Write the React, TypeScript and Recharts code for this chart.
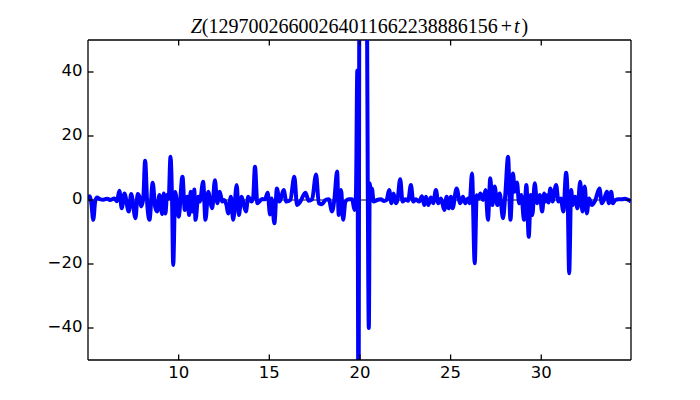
import { LineChart, Line, XAxis, YAxis, ReferenceLine } from 'recharts';

// t offsets and Z values
const tValues = [
  5.0, 5.1, 5.18, 5.29, 5.4, 5.5, 5.65, 5.85, 6.05, 6.25, 6.45, 6.6, 6.73, 6.86, 7.01, 7.25, 7.38, 7.62, 7.74,
  7.85, 7.93, 8.05, 8.15, 8.27, 8.39, 8.57, 8.7, 8.81, 8.94, 9.09, 9.18, 9.27, 9.36, 9.45, 9.55, 9.64, 9.7,
  9.81, 10.0, 10.21, 10.34, 10.47, 10.58, 10.66, 10.76, 10.86, 10.93, 11.08, 11.17, 11.35, 11.48, 11.63,
  11.76, 11.85, 12.0, 12.13, 12.27, 12.4, 12.5, 12.64, 12.73, 12.88, 13.01, 13.2, 13.32, 13.47, 13.6, 13.71,
  13.84, 14.02, 14.11, 14.21, 14.34, 14.48, 14.61, 14.76, 14.91, 15.04, 15.13, 15.28, 15.42, 15.57, 15.79,
  15.94, 16.16, 16.38, 16.53, 16.71, 16.99, 17.17, 17.36, 17.58, 17.73, 17.91, 18.09, 18.28, 18.46, 18.59,
  18.74, 18.83, 18.96, 19.07, 19.2, 19.38, 19.57, 19.7, 19.78, 19.855, 19.92, 19.975, 20.35, 20.49, 20.54,
  20.6, 20.66, 20.75, 20.95, 21.15, 21.33, 21.47, 21.61, 21.74, 21.85, 21.98, 22.07, 22.22, 22.35, 22.5,
  22.66, 22.81, 22.94, 23.08, 23.27, 23.42, 23.55, 23.64, 23.77, 23.91, 24.04, 24.19, 24.32, 24.47, 24.65,
  24.78, 24.89, 25.02, 25.11, 25.33, 25.53, 25.68, 25.81, 25.96, 26.05, 26.18, 26.33, 26.44, 26.55, 26.64,
  26.79, 26.93, 27.06, 27.19, 27.3, 27.43, 27.58, 27.71, 27.89, 28.02, 28.17, 28.3, 28.44, 28.54, 28.66,
  28.78, 28.9, 29.05, 29.18, 29.31, 29.42, 29.51, 29.64, 29.77, 29.92, 30.05, 30.16, 30.25, 30.3, 30.4,
  30.5, 30.64, 30.71, 30.82, 30.95, 31.08, 31.22, 31.37, 31.46, 31.54, 31.65, 31.74, 31.87, 32.0, 32.15,
  32.27, 32.4, 32.51, 32.64, 32.79, 32.97, 33.21, 33.34, 33.47, 33.62, 33.73, 33.86, 33.95, 34.08, 34.26,
  34.45, 34.63, 34.82, 34.95,
];

const zValues = [
  0.3, 1.2, -0.8, -6.2, -0.3, 0.8, 0.3, 0.1, 0.4, 0.0, 0.5, -0.4, 2.9, -2.6, 2.0, -3.6, 1.9, -5.7, 1.9,
  0.8, -2.0, 0.5, 12.3, -1.5, -6.2, 5.4, -2.0, -3.6, 1.6, -4.4, 2.0, -4.2, 1.6, 0.5, 13.5, -1.0, -20.3,
  2.5, -5.2, 7.3, -3.1, 1.0, -4.7, 2.6, -3.6, 3.3, -6.2, 1.0, -0.5, 5.7, -6.2, 2.6,
  -1.0, -2.6, 6.2, -1.0, 2.6, -0.5, 0.0, -1.6, -4.2, 1.0, -6.2, 4.7, -4.7, 1.0, -1.6, -3.6,
  1.0, -0.5, 0.8, 10.4, -1.0, -0.3, 0.3, 0.2, 2.3, -4.5, 0.5, -7.3, 3.6, -0.5, 3.1,
  -0.5, 0.0, 7.3, -1.6, -0.5, 2.3, -0.2, 0.2, 8.0, -1.0, -1.3, 0.0, 0.2, -3.6, 0.2,
  8.9, -4.7, 3.1, -6.2, -0.5, 0.2, 0.2, -3.1, 2.0, 40.5, -75, 80, 80, -40, 5.2,
  2.5, 3.6, -0.5, 0.0, 0.2, -0.3, 0.0, 3.1, -1.0, 2.0, -1.0, 0.0, 6.5, -0.5, 0.2,
  -0.2, 4.7, -0.5, 0.2, -0.5, 1.2, -1.6, 1.0, -1.6, 0.8, -1.0, 3.1, -1.0, 0.5, -3.1,
  1.0, -2.6, 1.0, -2.6, 3.6, -1.0, 1.0, -1.0, 0.5, -1.0, 8.3, -19.8, 1.5, 0.5, 2.0,
  0.0, 3.1, -6.2, 6.8, -1.6, 4.2, -1.6, 2.0, -5.7, 2.0, 13.5, -6.2, 8.3, 2.6, 5.5,
  -1.0, 1.6, -6.2, 4.7, -11.5, 1.6, -4.7, 5.2, -1.0, 1.6, -3.6, 2.0, -0.5, 1.5, -0.8,
  3.6, -0.5, 2.0, 4.7, -0.5, 0.5, -3.6, 8.5, 0.0, -22.9, 3.1, -1.6, 1.0, -2.6, 5.7,
  -3.6, 4.2, -4.2, 0.5, -1.6, -0.2, 3.6, -1.0, 0.2, 2.6, -1.0, 2.6, -1.0, 0.0, 0.2,
  0.2, 0.4, 0.0, -0.5,
];

const xTicks = [10, 15, 20, 25, 30];
const yTicks = [-40, -20, 0, 20, 40];
const titleNumber = '12970026600264011662238886156';

const data = tValues.map((t, i) => ({ t, z: zValues[i] }));

const TICK_LEN = 5.5;
const TICK_FONT = '"DejaVu Sans", sans-serif';
const fmt = (v: number) => String(v).replace('-', '\u2212');

// plot box edges (svg coords): left 88, right 631, top 40, bottom 360
function BottomTick(props: any) {
  const { x, payload } = props;
  return (
    <g>
      <path d={`M${x},360 V${360 - TICK_LEN}`} stroke="#000" strokeWidth={1.3} fill="none" />
      <text x={x} y={378.3} textAnchor="middle" fontSize={16.5} fontFamily={TICK_FONT} fill="#000">
        {fmt(payload.value)}
      </text>
    </g>
  );
}

function LeftTick(props: any) {
  const { y, payload } = props;
  return (
    <g>
      <path d={`M88,${y} H${88 + TICK_LEN}`} stroke="#000" strokeWidth={1.3} fill="none" />
      <path d={`M631,${y} H${631 - TICK_LEN}`} stroke="#000" strokeWidth={1.3} fill="none" />
      <text x={82.4} y={y + 4.4} textAnchor="end" fontSize={16.5} fontFamily={TICK_FONT} fill="#000">
        {fmt(payload.value)}
      </text>
    </g>
  );
}

function TopTick(props: any) {
  const { x } = props;
  return <path d={`M${x},40 V${40 + TICK_LEN}`} stroke="#000" strokeWidth={1.3} fill="none" />;
}

const axisLine = { stroke: '#000', strokeWidth: 1.3 };

export default function App() {
  return (
    <div style={{ position: 'absolute', left: 0, top: 0, width: 700, height: 400, background: '#fff' }}>
      <div
        style={{
          position: 'absolute',
          left: 88,
          width: 543,
          top: 16,
          textAlign: 'center',
          fontFamily: '"Liberation Serif", serif',
          fontSize: 20,
          lineHeight: '20px',
          whiteSpace: 'nowrap',
          color: '#000',
        }}
      >
        <i>Z</i>({titleNumber}
        <span style={{ marginLeft: 3, marginRight: 2 }}>+</span>
        <i>t</i>
        <span style={{ marginLeft: 2 }}>)</span>
      </div>
      <LineChart width={700} height={400} data={data} margin={{ top: 40, right: 69, bottom: 0, left: 0 }}>
        <XAxis
          dataKey="t"
          type="number"
          domain={[5, 34.95]}
          allowDataOverflow
          ticks={xTicks}
          height={40}
          tickSize={0}
          tickMargin={0}
          tickLine={false}
          axisLine={axisLine}
          tick={(p: any) => (
            <g>
              <BottomTick {...p} />
              <TopTick {...p} />
            </g>
          )}
        />
        <YAxis
          type="number"
          domain={[-50, 50]}
          allowDataOverflow
          ticks={yTicks}
          width={88}
          tickSize={0}
          tickMargin={0}
          tickLine={false}
          axisLine={axisLine}
          tick={(p: any) => <LeftTick {...p} />}
        />
        {/* top and right edges of the frame */}
        <ReferenceLine y={50} stroke="#000" strokeWidth={1.3} ifOverflow="extendDomain" />
        <ReferenceLine x={34.95} stroke="#000" strokeWidth={1.3} ifOverflow="extendDomain" />
        <ReferenceLine y={0} stroke="#000" strokeWidth={1} />
        <Line
          type="monotone"
          dataKey="z"
          stroke="#0000ff"
          strokeWidth={4}
          dot={false}
          isAnimationActive={false}
        />
      </LineChart>
    </div>
  );
}
